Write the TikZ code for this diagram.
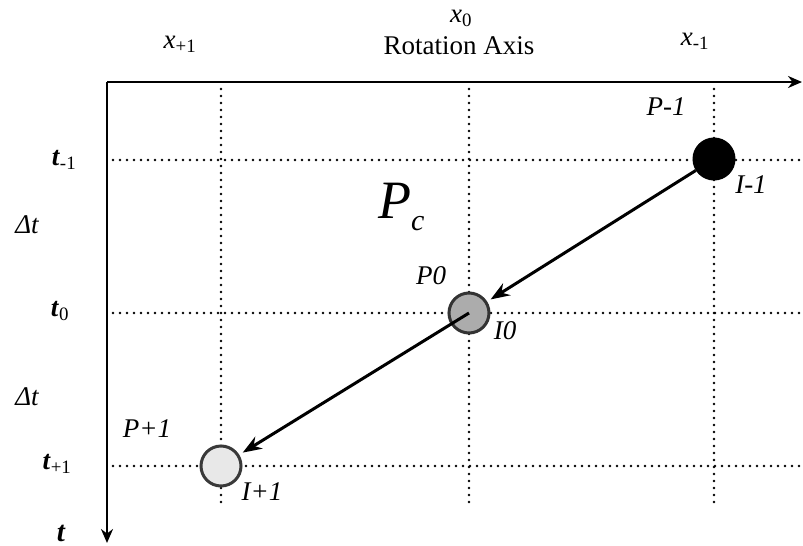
\documentclass[tikz,border=0pt]{standalone}
\usepackage{fontspec}
\setmainfont{Liberation Serif}
\usetikzlibrary{arrows.meta}
\begin{document}
\begin{tikzpicture}[x=1pt,y=-1pt,
  grid/.style={line width=2.8pt, line cap=round, dash pattern=on 0pt off 7pt},
  axis/.style={line width=2.8pt, -{Stealth[length=14pt,width=12pt]}},
  move/.style={line width=3pt, -{Stealth[length=19pt,width=14pt]}},
  ball/.style={circle, draw, line width=3pt, minimum size=40pt, inner sep=0pt},
  lbl/.style={font=\fontsize{27}{30}\selectfont\itshape},
  tick/.style={font=\fontsize{27}{30}\selectfont}]
\useasboundingbox (0,0) rectangle (803,546);
% axes
\coordinate (o) at (107,82);
\coordinate (xend) at (802,82);
\coordinate (tend) at (107,543);
\draw[axis] (o) -- (xend);
\draw[axis] (o) -- (tend);
% grid
\foreach \x in {221,469,714} \draw[grid] (\x,89) -- (\x,503);
\foreach \y in {160,313,466} \draw[grid] (113,\y) -- (803,\y);
% top labels
\node[tick] (xp) at (180,44) {\textit{x}\textsubscript{+1}};
\node[tick] (x0) at (461,18) {\textit{x}\textsubscript{0}};
\node[font=\fontsize{27}{31}\selectfont] (rot) at (459,46) {Rotation Axis};
\node[tick] (xm) at (695,41) {\textit{x}\textsubscript{-1}};
% time labels
\node[tick] (tm) at (64,160) {\textbf{\textit{t}}\textsubscript{-1}};
\node[lbl] (dt1) at (27,225) {Δt};
\node[tick] (t0) at (60,311) {\textbf{\textit{t}}\textsubscript{0}};
\node[lbl] (dt2) at (27,397) {Δt};
\node[tick] (tp) at (57,464) {\textbf{\textit{t}}\textsubscript{+1}};
\node[font=\fontsize{29}{30}\selectfont\bfseries\itshape] (t) at (61,533) {t};
% positions
\node[ball, fill=black, draw=black] (pm) at (714,159) {};
\node[ball, fill=gray!65, draw=black!80] (p0) at (469,313) {};
\node[ball, fill=gray!18, draw=gray!45!black] (pp) at (221,466) {};
\node[anchor=base west, inner sep=0pt, font=\fontsize{54}{58}\selectfont\itshape] (pc) at (378,218) {P\raisebox{-12pt}{\fontsize{30}{32}\selectfont c}};
\node[lbl] (lpm) at (666,107) {P-1};
\node[lbl] (lim) at (751,185) {I-1};
\node[lbl] (lp0) at (431,276) {P0};
\node[lbl] (li0) at (505,331) {I0};
\node[lbl] (lpp) at (147,429) {P+1};
\node[lbl] (lip) at (262,492) {I+1};
% moves
\draw[move, shorten >=4pt] (pm) -- (p0);
\draw[move, shorten >=4pt] (p0.center) -- (pp);
\end{tikzpicture}
\end{document}
